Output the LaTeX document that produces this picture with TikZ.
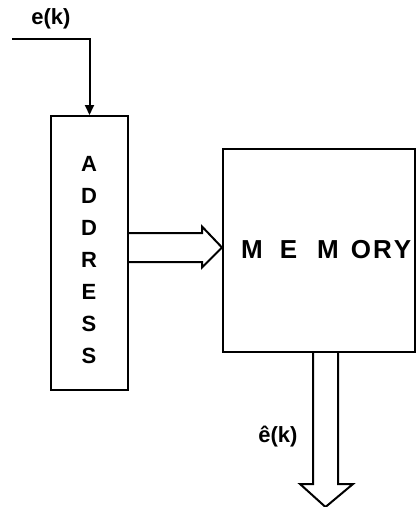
\documentclass[tikz,border=0pt]{standalone}
\usepackage{fontspec}
\setmainfont{Liberation Sans}
\usetikzlibrary{calc,arrows.meta}
\begin{document}
\begin{tikzpicture}[x=1pt,y=-1pt,
  blk/.style={draw,line width=2pt,inner sep=0pt},
  lbl/.style={font=\fontsize{26}{28}\selectfont\bfseries,inner sep=0pt},
  small/.style={font=\fontsize{22}{23}\selectfont\bfseries,inner sep=0pt},
  wire/.style={line width=2pt},
  hollow/.style={draw,line width=2pt,fill=white,line join=miter}]
\useasboundingbox (0,0) rectangle (417,507);
\node[blk,minimum width=77pt,minimum height=274pt] (addr) at (89.5,253) {};
\node[lbl,align=center,font=\fontsize{22}{32}\selectfont\bfseries] (addrtext) at (89,260) {A\\D\\D\\R\\E\\S\\S};
\node[blk,minimum width=192pt,minimum height=203pt] (mem) at (319,250.5) {};
\node[lbl,anchor=west] (memtext) at (241,250) {M\hspace{17pt}E\hspace{20pt}M\hspace{12pt}O\hspace{2pt}R\hspace{2pt}Y};
\coordinate (in) at (12,39);
\node[small] (ek) at (51,19) {e(k)};
\node[small] (ehat) at (278,437) {ê(k)};
\coordinate (tipa) at ($(mem.west)+(0,-3)$);
\coordinate (tipb) at ($(mem.south)+(6.5,154)$);
\draw[wire,-{Triangle[length=10pt,width=9pt]}] (in) -| (addr.north);
\draw[hollow] ($(tipa -| addr.east)+(0,-14.5)$) -- ($(tipa)+(-20,-14.5)$) -- ($(tipa)+(-20,-21)$) -- (tipa)
  -- ($(tipa)+(-20,20)$) -- ($(tipa)+(-20,14.5)$) -- ($(tipa -| addr.east)+(0,14.5)$);
\draw[hollow] ($(mem.south)+(-6,0)$) -- ($(tipb)+(-12.5,-23)$) -- ($(tipb)+(-25.5,-23)$) -- (tipb)
  -- ($(tipb)+(27.5,-23)$) -- ($(tipb)+(12.5,-23)$) -- ($(mem.south)+(19,0)$);
\end{tikzpicture}
\end{document}
